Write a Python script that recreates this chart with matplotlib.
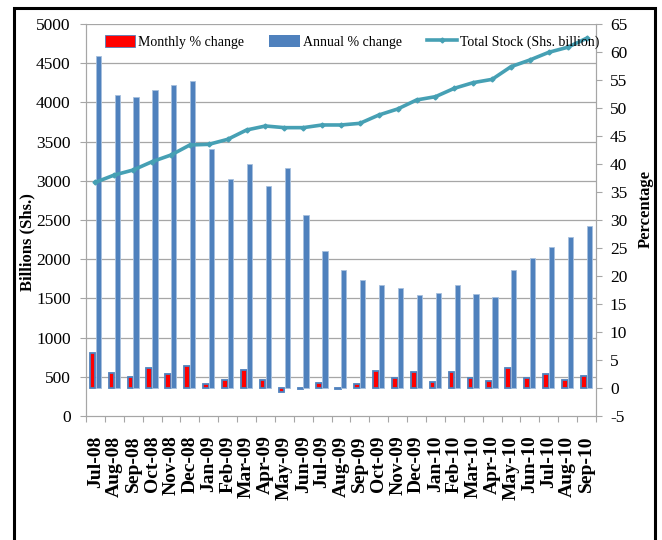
import matplotlib
matplotlib.use('Agg')
import matplotlib.pyplot as plt
import numpy as np
from matplotlib.lines import Line2D
from matplotlib.patches import Patch, Rectangle

plt.rcParams.update({
    'font.family': 'Liberation Serif',
    'axes.linewidth': 0.8,
    'axes.unicode_minus': False,
})

# ─── Data ────────────────────────────────────────────────────
months = ['Jul-08', 'Aug-08', 'Sep-08', 'Oct-08', 'Nov-08', 'Dec-08',
          'Jan-09', 'Feb-09', 'Mar-09', 'Apr-09', 'May-09', 'Jun-09',
          'Jul-09', 'Aug-09', 'Sep-09', 'Oct-09', 'Nov-09', 'Dec-09',
          'Jan-10', 'Feb-10', 'Mar-10', 'Apr-10', 'May-10', 'Jun-10',
          'Jul-10', 'Aug-10', 'Sep-10']
monthly_pct = [6.2, 2.7, 2.0, 3.5, 2.5, 3.9, 0.8, 1.5, 3.2, 1.5, -0.8, -0.1,
               0.9, -0.2, 0.7, 3.0, 1.8, 2.9, 1.0, 2.8, 1.8, 1.2, 3.5, 1.8,
               2.5, 1.4, 2.1]
annual_pct = [59.3, 52.3, 51.9, 53.3, 54.1, 54.8, 42.6, 37.4, 40.0, 36.1,
              39.2, 30.9, 24.4, 21.0, 19.3, 18.4, 17.8, 16.6, 17.0, 18.4,
              16.8, 16.2, 21.0, 23.2, 25.2, 27.0, 29.0]
total_stock = [2981, 3074, 3138, 3244, 3329, 3457, 3465, 3529, 3648, 3699,
               3678, 3678, 3712, 3712, 3733, 3839, 3916, 4031, 4073, 4180,
               4252, 4294, 4456, 4541, 4639, 4703, 4818]

RED = '#FF0000'
BLUE = '#4F81BD'
TEAL = '#46A0B4'
GRID = '#A6A6A6'

W, H = 662, 540
fig = plt.figure(figsize=(W / 100, H / 100), dpi=100)

rect = [86 / W, 1 - 416 / H, (596 - 86) / W, (416 - 24) / H]
ax = fig.add_axes(rect)          # left scale, gridlines
ax_bar = ax.twinx()              # right scale, bars
ax_line = ax.twinx()             # left scale again, line on top

x = np.arange(len(months))

# gridlines
ax.set_ylim(0, 5000)
ax.set_yticks(np.arange(0, 5001, 500))
for v in np.arange(500, 5001, 500):
    ax.axhline(v, color=GRID, linewidth=0.9, zorder=0)

# bars (percentage)
ax_bar.bar(x - 0.15, monthly_pct, width=0.3, color=RED, edgecolor=BLUE,
           linewidth=1.3, zorder=3)
ax_bar.bar(x + 0.15, annual_pct, width=0.28, color=BLUE, edgecolor='#A7C0DE',
           linewidth=0.6, zorder=3)
ax_bar.set_ylim(-5, 65)
ax_bar.set_yticks(np.arange(-5, 66, 5))

# line (total stock)
ax_line.plot(x, total_stock, '-', color=TEAL, linewidth=2.6, marker='D',
             markersize=2.5, zorder=5)
ax_line.set_ylim(0, 5000)
ax_line.set_yticks([])

for a in (ax, ax_bar, ax_line):
    a.set_xlim(-0.5, len(months) - 0.5)
    a.spines['top'].set_visible(False)
    for s in ('left', 'right', 'bottom'):
        a.spines[s].set_color(GRID)

ax_line.spines['left'].set_visible(False)
ax_line.spines['right'].set_visible(False)
ax_line.spines['bottom'].set_visible(False)

# x ticks: marks on boundaries, labels in the middle
ax.set_xticks(np.arange(-0.5, len(months), 1.0))
ax.set_xticklabels([])
ax.set_xticks(x, minor=True)
ax.set_xticklabels(months, minor=True, rotation=90, fontsize=14,
                   fontweight='bold')
ax.tick_params(axis='x', which='major', direction='out', length=4,
               color=GRID)
ax.tick_params(axis='x', which='minor', length=0, pad=14)
ax_bar.tick_params(axis='x', which='both', length=0, labelbottom=False)
ax_line.tick_params(axis='x', which='both', length=0, labelbottom=False)

ax.tick_params(axis='y', direction='out', length=4, color=GRID, pad=7,
               labelsize=12.5)
ax_bar.tick_params(axis='y', direction='out', length=4, color=GRID, pad=6,
                   labelsize=12.5)

fig.text(27 / W, 1 - 242 / H, 'Billions (Shs.)', rotation=90, ha='center',
         va='center', fontsize=12, fontweight='bold')
fig.text(646 / W, 1 - 209 / H, 'Percentage', rotation=90, ha='center',
         va='center', fontsize=12, fontweight='bold')

handles = [
    Patch(facecolor=RED, edgecolor=BLUE, linewidth=0.6, label='Monthly % change'),
    Patch(facecolor=BLUE, label='Annual % change'),
    Line2D([0], [0], color=TEAL, linewidth=2.6, marker='D', markersize=2.5,
           label='Total Stock (Shs. billion)'),
]
fig.legend(handles=handles, loc='center left',
           bbox_to_anchor=(98 / W, 1 - 42 / H), bbox_transform=fig.transFigure,
           ncol=3, frameon=False, fontsize=10, borderpad=0,
           handlelength=2.2, handleheight=0.9, handletextpad=0.2,
           columnspacing=1.8)

# outer frame
fig.patches.append(Rectangle((14 / W, -0.05), (655 - 14) / W, 1.05 - 8 / H,
                             transform=fig.transFigure, fill=False,
                             edgecolor='black', linewidth=2.2))

fig.savefig('out.png', dpi=100)
